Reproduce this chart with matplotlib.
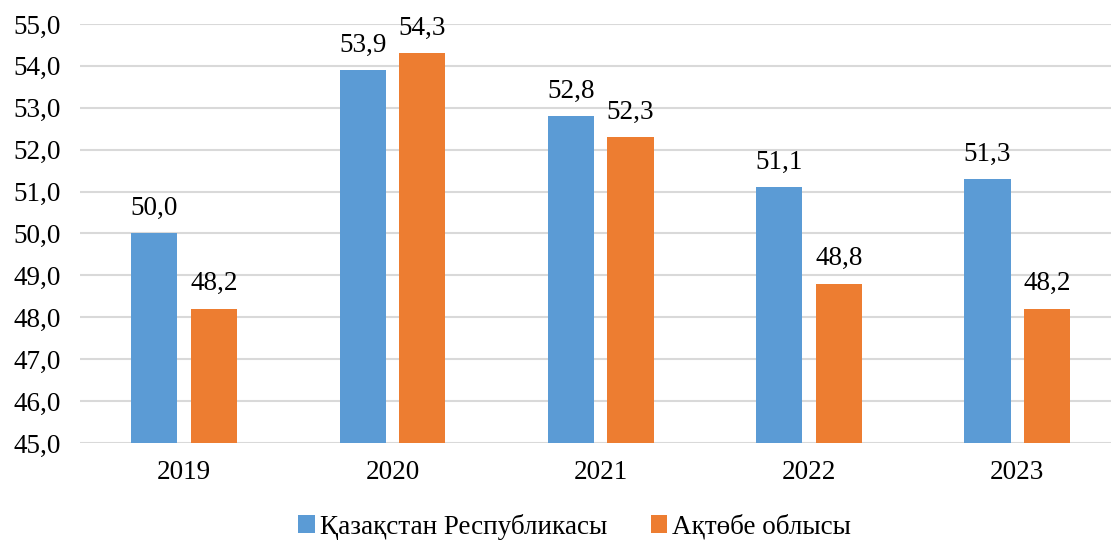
import matplotlib.pyplot as plt
import numpy as np

# data
years = ["2019", "2020", "2021", "2022", "2023"]
kazakhstan = [50.0, 53.9, 52.8, 51.1, 51.3]
aktobe = [48.2, 54.3, 52.3, 48.8, 48.2]
series_names = ["Қазақстан Республикасы", "Ақтөбе облысы"]

blue = "#5B9BD5"
orange = "#ED7D31"

plt.rcParams["font.family"] = ["Liberation Serif", "DejaVu Serif"]

fig = plt.figure(figsize=(11.11, 5.40), dpi=100)
ax = fig.add_axes([80 / 1111, 1 - 443 / 540, 1 - 80 / 1111, (443 - 24) / 540])

x = np.arange(len(years))
w = 0.221
off = 0.143

b1 = ax.bar(x - off, kazakhstan, w, color=blue, label=series_names[0], zorder=3)
b2 = ax.bar(x + off, aktobe, w, color=orange, label=series_names[1], zorder=3)

for bars, vals in [(b1, kazakhstan), (b2, aktobe)]:
    for rect, v in zip(bars, vals):
        ax.text(rect.get_x() + rect.get_width() / 2, v + 0.3, f"{v:.1f}".replace(".", ","),
                ha="center", va="bottom", fontsize=19.5)

ax.set_ylim(45, 55)
ax.set_yticks(np.arange(45, 56, 1))
ax.set_yticklabels([f"{t:.1f}".replace(".", ",") for t in np.arange(45, 56, 1)])
ax.set_xlim(-0.5, 4.45)
ax.set_xticks(x)
ax.set_xticklabels(years)
ax.tick_params(axis="both", length=0, labelsize=19.5)
ax.tick_params(axis="y", pad=14)
ax.tick_params(axis="x", pad=12)

ax.grid(axis="y", color="#D9D9D9", linewidth=1.5, zorder=0)
for s in ax.spines.values():
    s.set_visible(False)

ax.legend(loc="lower center", bbox_to_anchor=(0.48, -0.237), ncol=2, frameon=False,
          fontsize=19.5, handlelength=0.6, handleheight=0.6, handletextpad=0.2,
          columnspacing=1.6, borderaxespad=0, borderpad=0.1)

fig.savefig("out.png", dpi=100)
